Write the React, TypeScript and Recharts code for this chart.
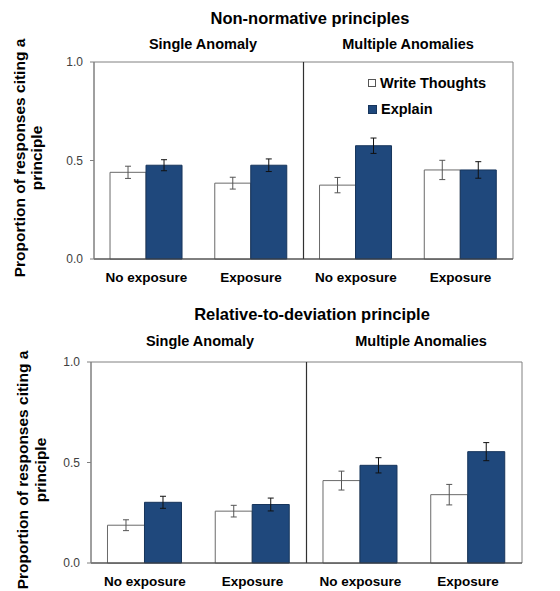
import React from 'react';
import {
  BarChart,
  Bar,
  XAxis,
  YAxis,
  ErrorBar,
  ReferenceLine,
  ReferenceArea,
  Legend
} from 'recharts';

const FONT = '"Liberation Sans", Arial, Helvetica, sans-serif';
const BLUE = '#1F487C';

const categories = ['No exposure', 'Exposure', 'No exposure', 'Exposure'];
const yTicks = [0, 0.5, 1];

// Non-normative principles
const nonNormWrite = [0.44, 0.385, 0.375, 0.452];
const nonNormWriteErr = [0.031, 0.03, 0.039, 0.049];
const nonNormExplain = [0.476, 0.476, 0.575, 0.452];
const nonNormExplainErr = [0.028, 0.032, 0.039, 0.042];

// Relative-to-deviation principle
const relWrite = [0.188, 0.258, 0.41, 0.34];
const relWriteErr = [0.027, 0.029, 0.047, 0.051];
const relExplain = [0.302, 0.291, 0.486, 0.554];
const relExplainErr = [0.03, 0.032, 0.038, 0.045];

const buildRows = (w: number[], we: number[], e: number[], ee: number[]) =>
  categories.map((c, i) => ({
    idx: i,
    mid: i + 0.5,
    cat: c,
    write: w[i],
    writeErr: we[i],
    explain: e[i],
    explainErr: ee[i]
  }));

const topRows = buildRows(nonNormWrite, nonNormWriteErr, nonNormExplain, nonNormExplainErr);
const bottomRows = buildRows(relWrite, relWriteErr, relExplain, relExplainErr);

const LegendBox = () => (
  <div style={{ fontFamily: FONT, fontWeight: 'bold', fontSize: 14.5, color: '#000', lineHeight: 1 }}>
    <div style={{ display: 'flex', alignItems: 'center', height: 26 }}>
      <span style={{ width: 6, height: 6, border: '1px solid #555', background: '#fff', marginRight: 4 }} />
      Write Thoughts
    </div>
    <div style={{ display: 'flex', alignItems: 'center', height: 26 }}>
      <span style={{ width: 7, height: 7, border: '1px solid #17355c', background: BLUE, marginRight: 4 }} />
      Explain
    </div>
  </div>
);

interface PanelProps {
  rows: ReturnType<typeof buildRows>;
  top: number;
  height: number;
  margin: { top: number; right: number; bottom: number };
  yWidth: number;
  xHeight: number;
  legend?: boolean;
}

const Panel: React.FC<PanelProps> = ({ rows, top, height, margin, yWidth, xHeight, legend }) => (
  <div style={{ position: 'absolute', left: 0, top, width: 560, height }}>
    <BarChart
      width={560}
      height={height}
      data={rows}
      margin={{ top: margin.top, right: margin.right, bottom: margin.bottom, left: 0 }}
      barCategoryGap="15.3%"
      barGap={0}
    >
      <XAxis
        dataKey="idx"
        type="category"
        height={xHeight}
        tickFormatter={(i: number) => categories[i]}
        tickLine={false}
        tickSize={6}
        tickMargin={7}
        axisLine={{ stroke: '#404040' }}
        tick={{ fontFamily: FONT, fontSize: 13.5, fontWeight: 'bold', fill: '#000' }}
        interval={0}
      />
      <XAxis
        xAxisId="frame"
        dataKey="mid"
        type="number"
        domain={[0, 4]}
        allowDataOverflow
        hide
      />
      <YAxis
        width={yWidth}
        domain={[0, 1]}
        ticks={yTicks}
        tickFormatter={(v: number) => v.toFixed(1)}
        tickSize={4}
        tickMargin={7}
        axisLine={{ stroke: '#808080' }}
        tickLine={{ stroke: '#808080' }}
        tick={{ fontFamily: FONT, fontSize: 12, fill: '#404040' }}
      />
      <ReferenceArea
        xAxisId="frame"
        x1={0}
        x2={4}
        y1={0}
        y2={1}
        fill="none"
        fillOpacity={0}
        stroke="#808080"
        strokeWidth={1}
        ifOverflow="visible"
      />
      <ReferenceLine xAxisId="frame" x={2} stroke="#303030" strokeWidth={1.2} />
      <Bar dataKey="write" fill="#ffffff" stroke="#6a6a6a" strokeWidth={1} isAnimationActive={false}>
        <ErrorBar dataKey="writeErr" width={3} stroke="#555" strokeWidth={1} />
      </Bar>
      <Bar dataKey="explain" fill={BLUE} stroke="#17355c" strokeWidth={1} isAnimationActive={false}>
        <ErrorBar dataKey="explainErr" width={3} stroke="#111" strokeWidth={1} />
      </Bar>
      {legend && (
        <Legend
          layout="vertical"
          align="center"
          verticalAlign="middle"
          content={() => <LegendBox />}
          wrapperStyle={{ position: 'absolute', top: 70, left: 368, width: 'auto', height: 'auto' }}
        />
      )}
    </BarChart>
  </div>
);

const YLabel: React.FC<{ x1: number; x2: number; cy: number }> = ({ x1, x2, cy }) => (
  <g fontFamily={FONT} fontWeight="bold" fontSize={15.5} fill="#000" textAnchor="middle">
    <text transform={`translate(${x1},${cy}) rotate(-90)`}>Proportion of responses citing a</text>
    <text transform={`translate(${x2},${cy}) rotate(-90)`}>principle</text>
  </g>
);

export default function App() {
  return (
    <div style={{ position: 'absolute', left: 0, top: 0, width: 560, height: 591, background: '#fff', overflow: 'hidden' }}>
      <Panel
        rows={topRows}
        top={0}
        height={295}
        margin={{ top: 62, right: 47, bottom: 6 }}
        yWidth={94}
        xHeight={30}
        legend
      />
      <Panel
        rows={bottomRows}
        top={295}
        height={296}
        margin={{ top: 67, right: 38, bottom: 6 }}
        yWidth={91}
        xHeight={22}
      />
      <svg
        width={560}
        height={591}
        style={{ position: 'absolute', left: 0, top: 0, pointerEvents: 'none' }}
      >
        <g fontFamily={FONT} fontWeight="bold" fill="#000" textAnchor="middle">
          <text x={310} y={24} fontSize={16.5}>Non-normative principles</text>
          <text x={203} y={48.5} fontSize={14.5}>Single Anomaly</text>
          <text x={408} y={48.5} fontSize={14.5}>Multiple Anomalies</text>
          <text x={312} y={320} fontSize={16.5}>Relative-to-deviation principle</text>
          <text x={200} y={345.5} fontSize={14.5}>Single Anomaly</text>
          <text x={421} y={345.5} fontSize={14.5}>Multiple Anomalies</text>
        </g>
        <YLabel x1={25} x2={42} cy={158} />
        <YLabel x1={28} x2={46} cy={470} />
      </svg>
    </div>
  );
}
